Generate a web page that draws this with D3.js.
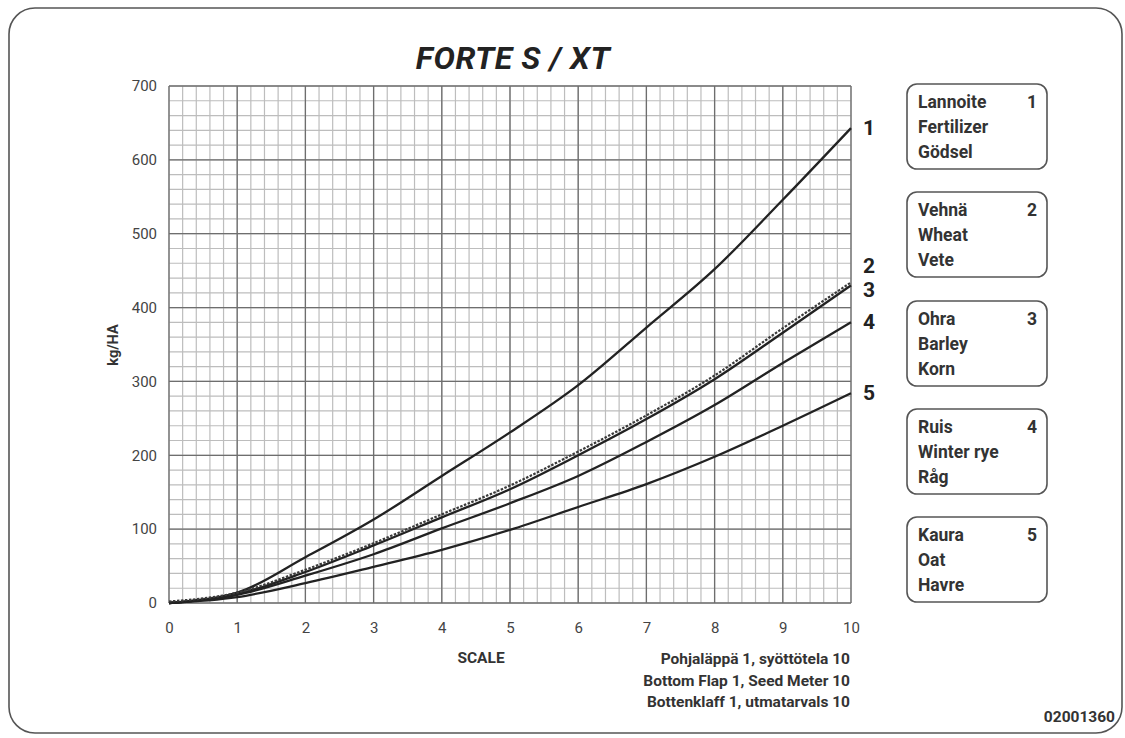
<!DOCTYPE html>
<html>
<head>
<meta charset="utf-8">
<script src="https://cdn.jsdelivr.net/npm/d3@7"></script>
<style>
  body { margin: 0; background: #fff; }
  svg { display: block; font-family: Roboto, "Noto Sans", sans-serif; }
</style>
</head>
<body>
<svg id="chart" width="1125" height="738"></svg>
<script>
// scale settings on the x axis
const scaleSteps = [0, 1, 2, 3, 4, 5, 6, 7, 8, 9, 10]
// kg/HA per crop
const fertilizer = [0, 14, 62, 113, 172, 231, 295, 373, 452, 546, 643]
const wheat = [0, 12, 43, 79, 118, 157, 203, 252, 306, 370, 432]
const barley = [0, 12, 42, 78, 116, 154, 200, 249, 303, 366, 430]
const rye = [0, 11, 37, 66, 101, 135, 172, 218, 268, 325, 380]
const oat = [0, 8, 27, 49, 72, 99, 130, 161, 198, 240, 284]
const yTicks = [0, 100, 200, 300, 400, 500, 600, 700]
const seriesNames = ['1', '2', '3', '4', '5']
const legendLines = [
  ['Lannoite', 'Fertilizer', 'Gödsel'],
  ['Vehnä', 'Wheat', 'Vete'],
  ['Ohra', 'Barley', 'Korn'],
  ['Ruis', 'Winter rye', 'Råg'],
  ['Kaura', 'Oat', 'Havre'],
]
const footLines = [
  'Pohjaläppä 1, syöttötela 10',
  'Bottom Flap 1, Seed Meter 10',
  'Bottenklaff 1, utmatarvals 10',
]

function draw() {
  const svg = d3.select('#chart')
  const series = [fertilizer, wheat, barley, rye, oat]

  // outer frame
  svg.append('rect')
    .attr('x', 9).attr('y', 8)
    .attr('width', 1113).attr('height', 725)
    .attr('rx', 26)
    .attr('fill', 'none')
    .attr('stroke', '#555')
    .attr('stroke-width', 1.6)

  // title
  svg.append('text')
    .attr('x', 513).attr('y', 69)
    .attr('text-anchor', 'middle')
    .attr('font-size', 32)
    .attr('font-weight', 700)
    .attr('font-style', 'italic')
    .attr('letter-spacing', 0.6)
    .attr('fill', '#222')
    .text('FORTE S / XT')

  const x = d3.scaleLinear().domain([0, 10]).range([169, 851])
  const y = d3.scaleLinear().domain([0, 700]).range([603, 86])

  const grid = svg.append('g')
  // minor grid: 0.2 scale steps, 20 kg
  grid.selectAll('.vminor')
    .data(d3.range(0, 10.001, 0.2))
    .join('line')
    .attr('x1', d => x(d)).attr('x2', d => x(d))
    .attr('y1', y(0)).attr('y2', y(700))
    .attr('stroke', '#bdbdbd').attr('stroke-width', 1.2)
  grid.selectAll('.hminor')
    .data(d3.range(0, 701, 20))
    .join('line')
    .attr('x1', x(0)).attr('x2', x(10))
    .attr('y1', d => y(d)).attr('y2', d => y(d))
    .attr('stroke', '#bdbdbd').attr('stroke-width', 1.2)
  // major grid
  grid.selectAll('.vmajor')
    .data(scaleSteps)
    .join('line')
    .attr('class', 'vmajor')
    .attr('x1', d => x(d)).attr('x2', d => x(d))
    .attr('y1', y(0)).attr('y2', y(700))
    .attr('stroke', '#6e6e6e').attr('stroke-width', 1.3)
  grid.selectAll('.hmajor')
    .data(yTicks)
    .join('line')
    .attr('class', 'hmajor')
    .attr('x1', x(0)).attr('x2', x(10))
    .attr('y1', d => y(d)).attr('y2', d => y(d))
    .attr('stroke', '#6e6e6e').attr('stroke-width', 1.3)

  // axes (labels only)
  const xAxis = svg.append('g')
    .attr('transform', `translate(0,${y(0) + 19})`)
    .call(d3.axisBottom(x).tickValues(scaleSteps).tickSize(0).tickPadding(0))
  const yAxis = svg.append('g')
    .attr('transform', `translate(${x(0) - 12},0)`)
    .call(d3.axisLeft(y).tickValues(yTicks).tickSize(0).tickPadding(0))
  ;[xAxis, yAxis].forEach(a => {
    a.select('.domain').remove()
    a.selectAll('text')
      .attr('font-family', 'Roboto, sans-serif')
      .attr('font-size', 15)
      .attr('fill', '#444')
  })

  svg.append('text')
    .attr('transform', `translate(118,345) rotate(-90)`)
    .attr('text-anchor', 'middle')
    .attr('font-size', 14.5)
    .attr('font-weight', 700)
    .attr('fill', '#333')
    .text('kg/HA')

  svg.append('text')
    .attr('x', 481).attr('y', 663)
    .attr('text-anchor', 'middle')
    .attr('font-size', 15.5)
    .attr('font-weight', 700)
    .attr('fill', '#333')
    .text('SCALE')

  // crop curves
  const line = d3.line()
    .x((d, i) => x(scaleSteps[i]))
    .y(d => y(d))
    .curve(d3.curveMonotoneX)

  const curves = svg.append('g').attr('fill', 'none')
  // draw barley first so the dashed wheat curve sits on top
  const order = [0, 2, 3, 4, 1]
  order.forEach(i => {
    curves.append('path')
      .attr('d', line(series[i]))
      .attr('stroke', i === 1 ? '#3a3a3a' : '#222')
      .attr('stroke-width', i === 1 ? 2.2 : 2.3)
      .attr('stroke-dasharray', i === 1 ? '2.5,1.5' : null)
      .attr('transform', i === 1 ? 'translate(0,-1.5)' : null)
  })

  // curve numbers at the right end
  const endOffsets = [0, -18, 5, 0, 0]
  svg.append('g')
    .selectAll('text')
    .data(seriesNames)
    .join('text')
    .attr('x', x(10) + 12)
    .attr('y', (d, i) => y(series[i][10]) + 7 + endOffsets[i])
    .attr('font-size', 21)
    .attr('font-weight', 700)
    .attr('fill', '#222')
    .text(d => d)

  // legend boxes
  const boxTop = [84, 192, 301, 409, 517]
  const boxes = svg.append('g')
    .selectAll('g')
    .data(legendLines)
    .join('g')
    .attr('transform', (d, i) => `translate(907,${boxTop[i]})`)
  boxes.append('rect')
    .attr('width', 140).attr('height', 85)
    .attr('rx', 10)
    .attr('fill', '#fff')
    .attr('stroke', '#555')
    .attr('stroke-width', 1.6)
  boxes.selectAll('.lbl')
    .data(d => d)
    .join('text')
    .attr('class', 'lbl')
    .attr('x', 11)
    .attr('y', (d, i) => 24 + i * 25)
    .attr('font-size', 17.5)
    .attr('font-weight', 700)
    .attr('fill', '#333')
    .text(d => d)
  boxes.append('text')
    .attr('x', 130).attr('y', 24)
    .attr('text-anchor', 'end')
    .attr('font-size', 17.5)
    .attr('font-weight', 700)
    .attr('fill', '#333')
    .text((d, i) => seriesNames[i])

  // setting note under the chart
  svg.append('g')
    .selectAll('text')
    .data(footLines)
    .join('text')
    .attr('x', x(10) - 1)
    .attr('y', (d, i) => 664 + i * 21.5)
    .attr('text-anchor', 'end')
    .attr('font-size', 15.5)
    .attr('font-weight', 700)
    .attr('fill', '#333')
    .text(d => d)

  svg.append('text')
    .attr('x', 1115).attr('y', 722)
    .attr('text-anchor', 'end')
    .attr('font-size', 15.5)
    .attr('font-weight', 700)
    .attr('fill', '#333')
    .text('02001360')
}

window.onload = draw
</script>
</body>
</html>
